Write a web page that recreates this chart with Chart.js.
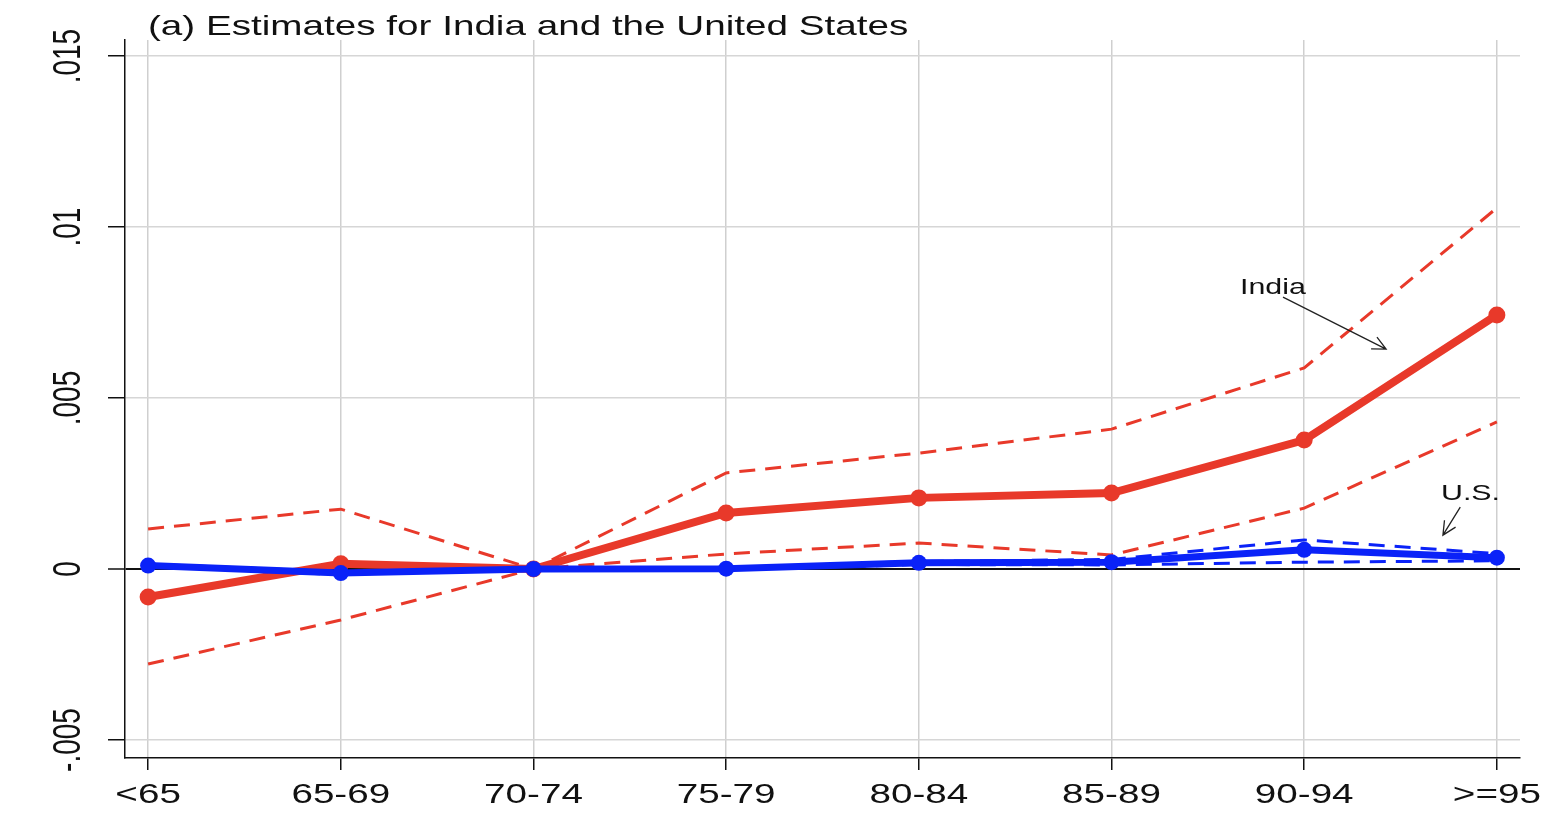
<!DOCTYPE html>
<html>
<head>
<meta charset="utf-8">
<script src="https://cdn.jsdelivr.net/npm/chart.js@4"></script>
<style>
  body { margin: 0; background: #fff; }
  canvas { display: block; }
</style>
</head>
<body>
<canvas id="estChart" width="1558" height="836"></canvas>
<script>
// categorias e valores
const ageGroups = ['<65', '65-69', '70-74', '75-79', '80-84', '85-89', '90-94', '>=95'];
const indiaEst = [-0.00082, 0.00015, 0, 0.00164, 0.00208, 0.00222, 0.00377, 0.00743];
const indiaHi = [0.00117, 0.00175, 0, 0.00281, 0.00339, 0.00409, 0.00588, 0.01056];
const indiaLo = [-0.00278, -0.00149, 0, 0.00044, 0.00076, 0.00041, 0.00178, 0.0043];
const usEst = [0.0001, -0.00012, 0, 0.00001, 0.00018, 0.0002, 0.00056, 0.00033];
const usHi = [0.00014, -0.00008, 0, 0.00004, 0.00022, 0.00028, 0.00085, 0.00045];
const usLo = [0.00006, -0.00016, 0, -0.00002, 0.00013, 0.00012, 0.0002, 0.00024];
const yTicks = [-0.005, 0, 0.005, 0.01, 0.015];
const yTickLabels = ['-.005', '0', '.005', '.01', '.015'];

const RED = '#e8392a';
const BLUE = '#0a22f8';
const STRETCH = 1.38; // o texto original é mais largo
const FONT = '"Liberation Sans", Arial, sans-serif';

// rótulos das setas (em unidades de dados)
const notes = [
    { text: 'India', x: 5.667, y: 0.00804, from: [5.89, 0.00795], to: [6.425, 0.00643] },
    { text: 'U.S.', x: 6.71, y: 0.00202, from: [6.81, 0.00181], to: [6.72, 0.00099] }
];

const toXY = arr => arr.map((v, i) => ({ x: i, y: v }));

function stretchedText(ctx, text, x, y, size, align, rotate) {
    ctx.save();
    ctx.translate(x, y);
    ctx.scale(STRETCH, 1);
    if (rotate) ctx.rotate(-Math.PI / 2);
    ctx.font = size + 'px ' + FONT;
    ctx.fillStyle = '#111';
    ctx.textAlign = align;
    ctx.textBaseline = 'alphabetic';
    ctx.fillText(text, 0, 0);
    ctx.restore();
}

const textPlugin = {
    id: 'textPlugin',
    afterDraw(chart) {
        const ctx = chart.ctx;
        const xs = chart.scales.x, ys = chart.scales.y;

        stretchedText(ctx, '(a) Estimates for India and the United States', 148, 35, 28, 'left');

        ageGroups.forEach((lab, i) => {
            stretchedText(ctx, lab, xs.getPixelForValue(i), 803, 28, 'center');
        });
        yTicks.forEach((v, i) => {
            stretchedText(ctx, yTickLabels[i], 80, ys.getPixelForValue(v), 28, 'center', true);
        });

        notes.forEach(n => {
            stretchedText(ctx, n.text, xs.getPixelForValue(n.x), ys.getPixelForValue(n.y), 22, 'left');
            const x1 = xs.getPixelForValue(n.from[0]), y1 = ys.getPixelForValue(n.from[1]);
            const x2 = xs.getPixelForValue(n.to[0]), y2 = ys.getPixelForValue(n.to[1]);
            const ang = Math.atan2(y2 - y1, x2 - x1);
            ctx.save();
            ctx.strokeStyle = '#222';
            ctx.lineWidth = 1.3;
            ctx.beginPath();
            ctx.moveTo(x1, y1);
            ctx.lineTo(x2, y2);
            ctx.moveTo(x2 - 15 * Math.cos(ang - 0.45), y2 - 15 * Math.sin(ang - 0.45));
            ctx.lineTo(x2, y2);
            ctx.lineTo(x2 - 15 * Math.cos(ang + 0.45), y2 - 15 * Math.sin(ang + 0.45));
            ctx.stroke();
            ctx.restore();
        });
    }
};

const ciLine = (data, color, order) => ({
    data: toXY(data),
    borderColor: color,
    borderWidth: 3,
    borderDash: [16, 10],
    pointRadius: 0,
    fill: false,
    order: order
});

const ctx = document.getElementById('estChart').getContext('2d');
new Chart(ctx, {
    type: 'line',
    data: {
        datasets: [
            {
                data: toXY(usEst),
                borderColor: BLUE,
                backgroundColor: BLUE,
                borderWidth: 7,
                pointRadius: 8,
                pointBorderWidth: 0,
                order: 0
            },
            ciLine(usHi, BLUE, 1),
            ciLine(usLo, BLUE, 1),
            {
                data: toXY(indiaEst),
                borderColor: RED,
                backgroundColor: RED,
                borderWidth: 8,
                pointRadius: 8.5,
                pointBorderWidth: 0,
                order: 2
            },
            ciLine(indiaHi, RED, 3),
            ciLine(indiaLo, RED, 3)
        ]
    },
    plugins: [textPlugin],
    options: {
        responsive: false,
        animation: false,
        devicePixelRatio: 1,
        layout: { padding: { top: 40, right: 38, left: 0, bottom: 0 } },
        plugins: {
            legend: { display: false },
            tooltip: { enabled: false }
        },
        scales: {
            x: {
                type: 'linear',
                min: -0.12,
                max: 7.12,
                afterBuildTicks: s => { s.ticks = ageGroups.map((_, i) => ({ value: i })); },
                afterFit: s => { s.height = 78; },
                ticks: { display: false },
                grid: { color: '#cfcfcf', lineWidth: 1.5, tickLength: 12, tickColor: '#111', tickWidth: 1.5 },
                border: { color: '#111', width: 1.5 }
            },
            y: {
                min: -0.005527,
                max: 0.01547,
                afterBuildTicks: s => { s.ticks = yTicks.map(v => ({ value: v })); },
                afterFit: s => { s.width = 125; },
                ticks: { display: false },
                grid: {
                    color: c => (c.tick && c.tick.value === 0) ? '#111' : '#d6d6d6',
                    lineWidth: c => (c.tick && c.tick.value === 0) ? 2 : 1.5,
                    tickLength: 17,
                    tickColor: '#111',
                    tickWidth: 1.5
                },
                border: { color: '#111', width: 1.5 }
            }
        }
    }
});
</script>
</body>
</html>
